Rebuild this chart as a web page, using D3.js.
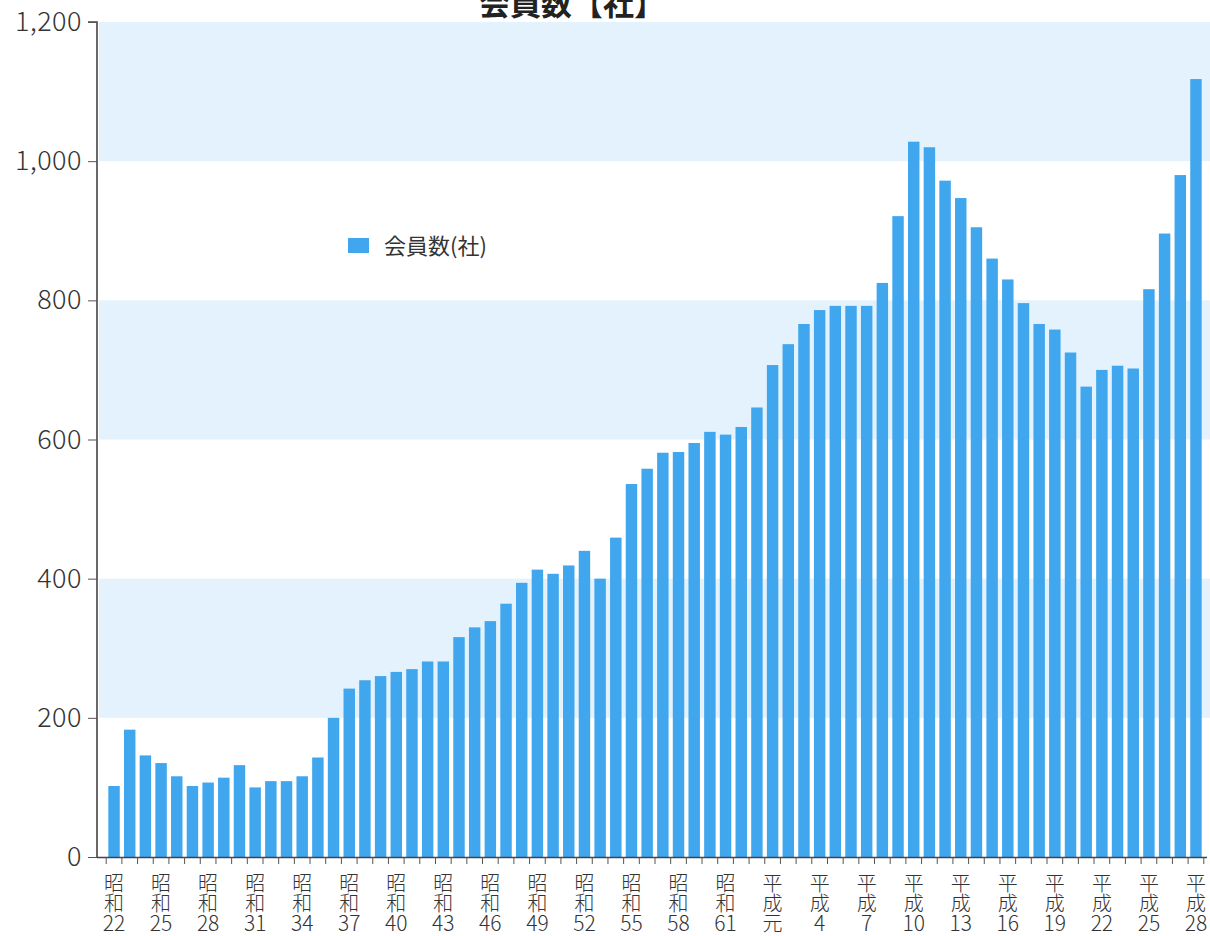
<!DOCTYPE html>
<html>
<head>
<meta charset="utf-8">
<script src="https://cdn.jsdelivr.net/npm/d3@7"></script>
<style>
  body { margin: 0; background: #fff; }
  svg text { font-family: "Noto Sans CJK JP", "Noto Sans", sans-serif; }
</style>
</head>
<body>
<svg id="canvas" width="1210" height="936"></svg>
<script>
// categories: era + year, one bar per year
let eras = [
  "昭和","昭和","昭和","昭和","昭和","昭和","昭和","昭和","昭和","昭和","昭和","昭和","昭和","昭和",
  "昭和","昭和","昭和","昭和","昭和","昭和","昭和","昭和","昭和","昭和","昭和","昭和","昭和","昭和",
  "昭和","昭和","昭和","昭和","昭和","昭和","昭和","昭和","昭和","昭和","昭和","昭和","昭和","昭和",
  "平成","平成","平成","平成","平成","平成","平成","平成","平成","平成","平成","平成","平成","平成",
  "平成","平成","平成","平成","平成","平成","平成","平成","平成","平成","平成","平成","平成","平成"
]
let years = [
  "22","23","24","25","26","27","28","29","30","31","32","33","34","35",
  "36","37","38","39","40","41","42","43","44","45","46","47","48","49",
  "50","51","52","53","54","55","56","57","58","59","60","61","62","63",
  "元","2","3","4","5","6","7","8","9","10","11","12","13","14",
  "15","16","17","18","19","20","21","22","23","24","25","26","27","28"
]
// 会員数(社)
let members = [
  102, 183, 146, 135, 116, 102, 107, 114, 132, 100, 109, 109, 116, 143,
  200, 242, 254, 260, 266, 270, 281, 281, 316, 330, 339, 364, 394, 413,
  407, 419, 440, 400, 459, 536, 558, 581, 582, 595, 611, 607, 618, 646,
  707, 737, 766, 786, 792, 792, 792, 825, 921, 1028, 1020, 972, 947, 905,
  860, 830, 796, 766, 758, 725, 676, 700, 706, 702, 816, 896, 980, 1118
]
let yTicks = [0, 200, 400, 600, 800, 1000, 1200]
let bands = [[200, 400], [600, 800], [1000, 1200]]

let cats = eras.map((e, i) => e + years[i])

let canvas = d3.select("#canvas")

let x = d3.scaleBand().domain(cats).range([106.2, 1203.8]).paddingInner(0.27).paddingOuter(0.135)
let y = d3.scaleLinear().domain([0, 1200]).range([857, 22])

// background bands
canvas.selectAll("rect.band").data(bands)
  .enter()
  .append("rect")
  .attr("class", "band")
  .attr("x", 99)
  .attr("width", 1210 - 99)
  .attr("y", d => y(d[1]))
  .attr("height", d => y(d[0]) - y(d[1]))
  .attr("fill", "#e3f2fc")

// title (cut off at top like the reference)
canvas.append("text")
  .attr("x", 572)
  .attr("y", 15)
  .attr("text-anchor", "middle")
  .attr("font-size", 31)
  .attr("font-weight", "bold")
  .attr("fill", "#222")
  .text("会員数【社】")

// bars
canvas.selectAll("rect.bar").data(members)
  .enter()
  .append("rect")
  .attr("class", "bar")
  .attr("x", (d, i) => x(cats[i]))
  .attr("width", x.bandwidth())
  .attr("y", d => y(d))
  .attr("height", d => y(0) - y(d))
  .attr("fill", "#40a6ed")

// y axis
let yAxis = canvas.append("g")
  .attr("transform", "translate(97,0)")
  .call(d3.axisLeft(y).tickValues(yTicks).tickFormat(d3.format(",")).tickSize(9).tickPadding(6))
yAxis.select(".domain").attr("stroke", "#444").attr("stroke-width", 1.6).attr("d", "M-9,22H0V857")
yAxis.selectAll(".tick line").attr("stroke", "#555")
yAxis.selectAll(".tick text")
  .attr("font-size", 27)
  .attr("font-weight", 300)
  .attr("letter-spacing", 0.5)
  .attr("fill", "#333")

// x axis: line + ticks at band boundaries
let xAxis = canvas.append("g")
xAxis.append("line")
  .attr("x1", 97).attr("x2", 1207)
  .attr("y1", 857.5).attr("y2", 857.5)
  .attr("stroke", "#444").attr("stroke-width", 1.6)
let step = x.step()
let bounds = cats.map(c => x(c) - x.paddingInner() * step / 2)
bounds.push(x(cats[cats.length - 1]) + x.bandwidth() + x.paddingInner() * step / 2)
xAxis.selectAll("line.tk").data(bounds)
  .enter()
  .append("line")
  .attr("class", "tk")
  .attr("x1", d => d).attr("x2", d => d)
  .attr("y1", 857).attr("y2", 864)
  .attr("stroke", "#555")

// vertical stacked labels every 3 years
let labelIdx = cats.map((c, i) => i).filter(i => i % 3 === 0)
let lbl = xAxis.selectAll("text.xl").data(labelIdx)
  .enter()
  .append("text")
  .attr("class", "xl")
  .attr("text-anchor", "middle")
  .attr("font-weight", 300)
  .attr("fill", "#333")
lbl.each(function(i) {
  let cx = x(cats[i]) + x.bandwidth() / 2
  let parts = [eras[i][0], eras[i][1], years[i]]
  d3.select(this).selectAll("tspan").data(parts)
    .enter()
    .append("tspan")
    .attr("x", cx)
    .attr("y", (p, k) => 891 + k * 20)
    .attr("font-size", (p, k) => k < 2 || p === "元" ? 20 : 21)
    .text(p => p)
})

// legend
canvas.append("rect")
  .attr("x", 348).attr("y", 238)
  .attr("width", 21).attr("height", 15)
  .attr("fill", "#40a6ed")
canvas.append("text")
  .attr("x", 384).attr("y", 254)
  .attr("font-size", 22)
  .attr("fill", "#333")
  .text("会員数(社)")
</script>
</body>
</html>
